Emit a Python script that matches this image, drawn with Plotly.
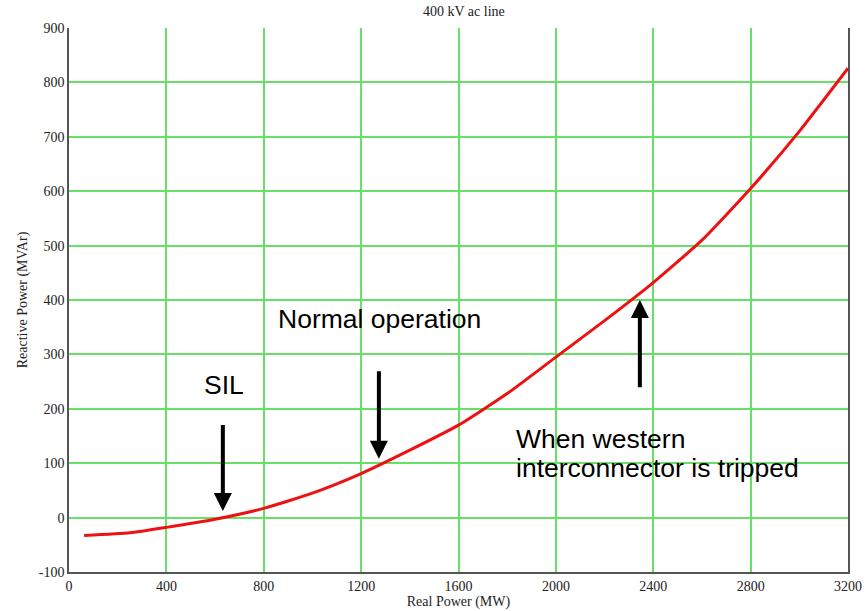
import plotly.graph_objects as go

real_power = [62, 250, 400, 600, 800, 1000, 1200, 1400, 1600, 1800, 2000, 2200, 2400, 2600, 2800, 3000, 3200]
reactive_power = [-33, -28, -18, -3, 17, 45, 81, 124, 170, 228, 295, 362, 432, 510, 605, 710, 826]

x_ticks = [0, 400, 800, 1200, 1600, 2000, 2400, 2800, 3200]
y_ticks = [-100, 0, 100, 200, 300, 400, 500, 600, 700, 800, 900]
y_tick_labels = ["-100", "0", "100", "200", "300", "400", "500", "600", "700", "800", "900"]

serif = "Liberation Serif, Times New Roman, serif"
sans = "Liberation Sans, Arial, sans-serif"
grid = "#66e066"

fig = go.Figure()
fig.add_trace(go.Scatter(x=real_power, y=reactive_power, mode="lines",
                         line=dict(color="#ee1111", width=3, shape="spline", smoothing=0.5),
                         showlegend=False))

arrow = dict(showarrow=True, arrowhead=2, arrowsize=0.9, arrowwidth=4, arrowcolor="black",
             axref="x", ayref="y", text="")
fig.add_annotation(x=632, y=12, ax=632, ay=173, **arrow)
fig.add_annotation(x=1273, y=108, ax=1273, ay=272, **arrow)
fig.add_annotation(x=2345, y=400, ax=2345, ay=237, **arrow)

txt = dict(showarrow=False, font=dict(family=sans, size=26.5, color="black"))
fig.add_annotation(x=636, y=243, text="SIL", **txt)
fig.add_annotation(x=1277, y=365, text="Normal operation", **txt)
fig.add_annotation(x=1830, y=145, text="When western", xanchor="left", **txt)
fig.add_annotation(x=1830, y=91, text="interconnector is tripped", xanchor="left", **txt)

fig.update_layout(
    width=867, height=611,
    margin=dict(l=69, r=19, t=28, b=39),
    paper_bgcolor="white", plot_bgcolor="white",
    title=dict(text="400 kV ac line", x=0.535, xanchor="center", y=0.99, yanchor="top",
               font=dict(family=serif, size=14, color="#222")),
    xaxis=dict(range=[0, 3200], tickvals=x_ticks, showgrid=True, gridcolor=grid, gridwidth=1.5,
               zeroline=False, showline=True, linecolor="#555", linewidth=1.5, automargin=False,
               tickfont=dict(family=serif, size=14, color="#222"), ticks="",
               title=dict(text="Real Power (MW)", font=dict(family=serif, size=14, color="#222"), standoff=2)),
    yaxis=dict(range=[-100, 900], tickvals=y_ticks, ticktext=y_tick_labels, showgrid=True,
               gridcolor=grid, gridwidth=1.5,
               zeroline=False, showline=True, linecolor="#555", linewidth=1.5, mirror=True, automargin=False,
               tickfont=dict(family=serif, size=14, color="#222"), ticks="",
               title=dict(text="Reactive Power (MVAr)", font=dict(family=serif, size=14, color="#222"), standoff=8)),
)

fig.write_html("out.html")
